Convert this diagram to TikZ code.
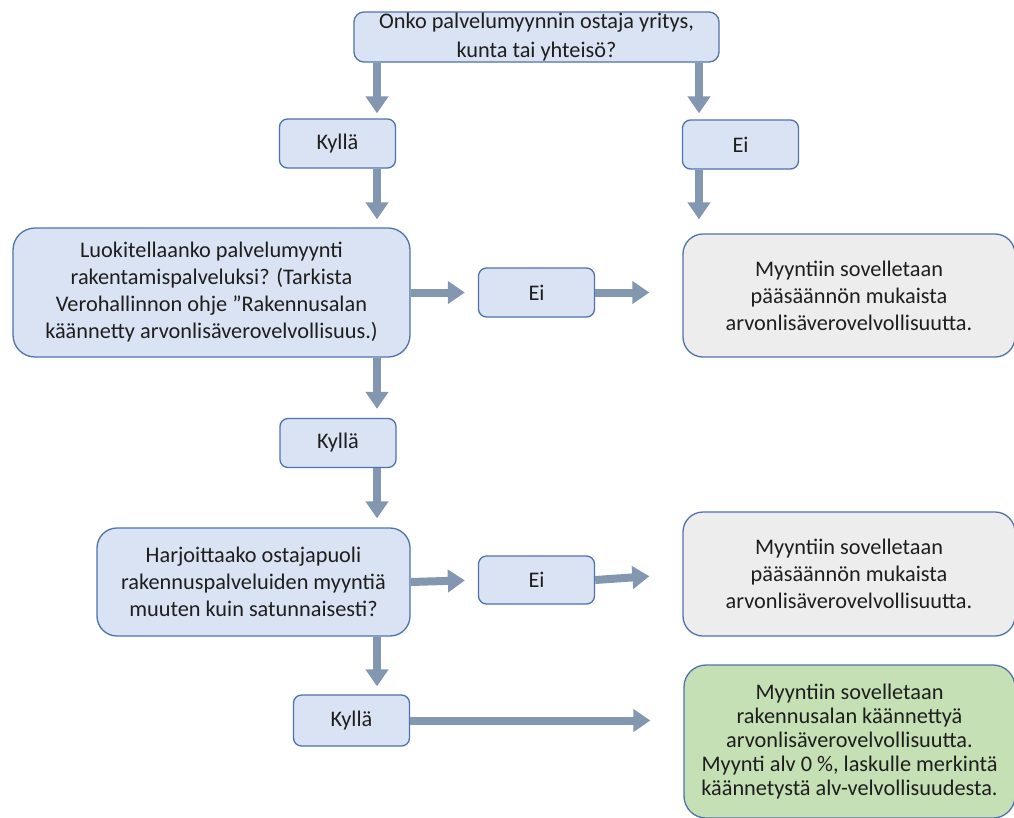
\documentclass[tikz,border=0pt]{standalone}
\usepackage{fontspec}
\setmainfont{Carlito}
\usetikzlibrary{arrows.meta}

\definecolor{qfill}{HTML}{DAE3F3}
\definecolor{gfill}{HTML}{EDEDED}
\definecolor{okfill}{HTML}{C5E0B4}
\definecolor{edge}{HTML}{4F72AE}
\definecolor{flow}{HTML}{8497B0}
\definecolor{ink}{HTML}{1E1E1E}

\tikzset{
  box/.style={draw=edge, line width=1.3pt, align=center, inner sep=0pt,
    text=ink, font=\fontsize{22.3}{27}\selectfont},
  qbox/.style={box, fill=qfill},
  ansbox/.style={box, fill=qfill, rounded corners=8pt,
    minimum width=116pt, minimum height=49pt},
  resbox/.style={box, fill=gfill, rounded corners=20pt},
  okbox/.style={box, fill=okfill, rounded corners=22pt,
    font=\fontsize{22.3}{23.8}\selectfont},
  flowarrow/.style={draw=flow, line width=8pt,
    -{Triangle[width=22pt,length=17pt]}, shorten >=#1},
  flowarrow/.default=8pt
}

\begin{document}
\begin{tikzpicture}[x=1pt, y=-1pt]
\useasboundingbox (0,0) rectangle (1014,817);

% arrow columns
\coordinate (colA) at (377,0);
\coordinate (colB) at (699,0);

% question boxes
\node[qbox, rounded corners=10pt, minimum width=365pt, minimum height=50pt,
  font=\fontsize{22.3}{28.5}\selectfont]
  (q1) at (536.5,37) {Onko palvelumyynnin ostaja yritys,\\kunta tai yhteisö?};
\node[qbox, rounded corners=22pt, minimum width=397pt, minimum height=129pt]
  (q2) at (211.5,292.5) {Luokitellaanko palvelumyynti\\rakentamispalveluksi? (Tarkista\\Verohallinnon ohje ”Rakennusalan\\käännetty arvonlisäverovelvollisuus.)};
\node[qbox, rounded corners=20pt, minimum width=313pt, minimum height=108pt]
  (q3) at (253.5,582) {Harjoittaako ostajapuoli\\rakennuspalveluiden myyntiä\\muuten kuin satunnaisesti?};

% answer boxes
\node[ansbox] (k1) at (337.5,143.5) {Kyllä};
\node[ansbox] (e1) at (740.5,144.5) {Ei};
\node[ansbox] (e2) at (536.5,292.5) {Ei};
\node[ansbox] (k2) at (338,443) {Kyllä};
\node[ansbox, minimum height=48pt] (e3) at (536.5,580) {Ei};
\node[ansbox, minimum height=51pt] (k3) at (351.5,720.5) {Kyllä};

% outcome boxes
\node[resbox, minimum width=332pt, minimum height=123pt]
  (g1) at (849,295.5) {Myyntiin sovelletaan\\pääsäännön mukaista\\arvonlisäverovelvollisuutta.};
\node[resbox, minimum width=332pt, minimum height=124pt]
  (g2) at (849,574) {Myyntiin sovelletaan\\pääsäännön mukaista\\arvonlisäverovelvollisuutta.};
\node[okbox, minimum width=331pt, minimum height=153pt]
  (ok) at (849.5,741.5) {Myyntiin sovelletaan\\rakennusalan käännettyä\\arvonlisäverovelvollisuutta.\\Myynti alv 0 \%, laskulle merkintä\\käännetystä alv-velvollisuudesta.};

% connectors
\draw[flowarrow=5pt]  (q1.south -| colA) -- (k1.north -| colA);
\draw[flowarrow=6pt]  (q1.south -| colB) -- (e1.north -| colB);
\draw[flowarrow=8pt]  (k1.south -| colA) -- (q2.north -| colA);
\draw[flowarrow=14pt] (e1.south -| colB) -- (g1.north -| colB);
\draw[flowarrow=13pt] (q2.east) -- (e2.west);
\draw[flowarrow=33pt] (e2.east) -- (e2.east -| g1.west);
\draw[flowarrow=9pt]  (q2.south -| colA) -- (k2.north -| colA);
\draw[flowarrow=9pt]  (k2.south -| colA) -- (q3.north -| colA);
\draw[flowarrow=13pt] (q3.east) -- (e3.west);
\draw[flowarrow=33pt] (e3.east) -- (g2.west);
\draw[flowarrow=8pt]  (q3.south -| colA) -- (k3.north -| colA);
\draw[flowarrow=33pt] (k3.east) -- (k3.east -| ok.west);
\end{tikzpicture}
\end{document}
